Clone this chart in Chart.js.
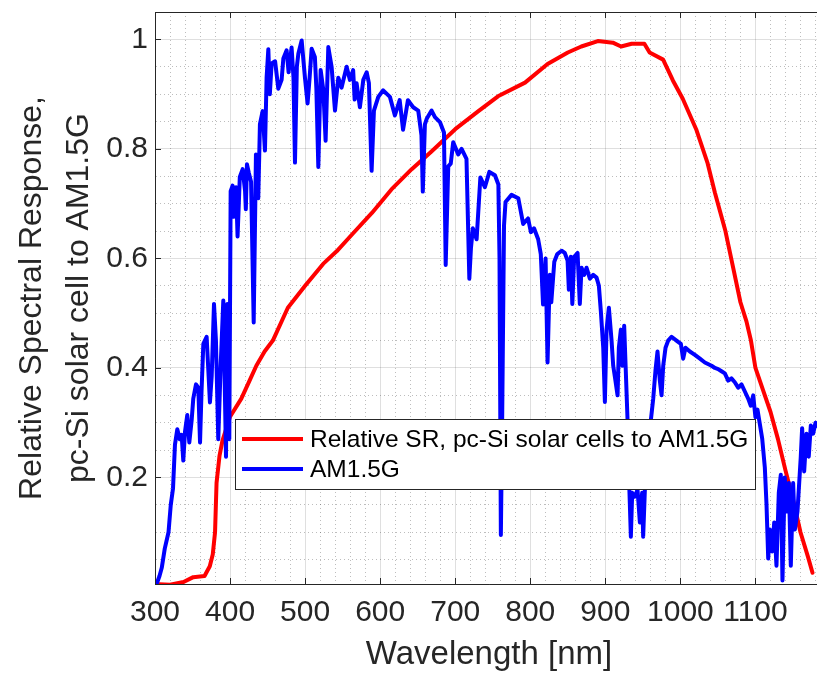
<!DOCTYPE html>
<html>
<head>
<meta charset="utf-8">
<title>Relative spectral response vs AM1.5G</title>
<script src="https://cdn.jsdelivr.net/npm/chart.js@4.4.1/dist/chart.umd.min.js"></script>
<style>
  html, body { margin: 0; padding: 0; background: #fff; overflow: hidden; }
  #wrap { width: 823px; height: 673px; }
</style>
</head>
<body>
<div id="wrap"><canvas id="srChart" width="823" height="673"></canvas></div>
<script>
// Relative SR of pc-Si cell (red) and normalised AM1.5G spectrum (blue)
const srWavelength = [306, 320, 338, 351, 366, 373, 377, 380, 382, 386, 390, 400, 415, 426, 435, 446, 457, 477, 500, 524,
  542, 564, 589, 615, 642, 668, 700, 730, 757, 793, 823, 850, 868, 890, 910, 921, 935, 952, 959, 977,
  990, 1003, 1021, 1036, 1046, 1060, 1070, 1080, 1088, 1094, 1100, 1110, 1120, 1130, 1140, 1150, 1160, 1170, 1176];
const srValues = [0.005, 0.004, 0.009, 0.018, 0.02, 0.038, 0.06, 0.1, 0.19, 0.24, 0.268, 0.311, 0.344, 0.377, 0.404, 0.43, 0.45, 0.51, 0.55, 0.59,
  0.613, 0.646, 0.683, 0.726, 0.763, 0.795, 0.836, 0.868, 0.896, 0.921, 0.955, 0.976, 0.987, 0.997, 0.994, 0.987, 0.992, 0.992, 0.976, 0.963,
  0.925, 0.892, 0.836, 0.775, 0.72, 0.65, 0.585, 0.52, 0.485, 0.45, 0.40, 0.36, 0.32, 0.27, 0.213, 0.16, 0.1, 0.055, 0.026];

const amWavelength = [300.5, 302, 306, 309, 313, 318, 321, 324, 326.6, 329.7, 333, 335.5, 337.7, 340, 343, 345.7, 348.8, 351, 354.6, 357.7,
  360, 362, 364.4, 368.8, 373.2, 375.5, 378.6, 381.2, 384.3, 387.5, 391, 394.6, 396.3, 399, 400.8, 403.4, 405.2, 408, 410, 413,
  416.8, 420, 421, 422.5, 425, 428, 431.5, 434.5, 437.6, 439.8, 443.4, 446.5, 448.7, 451, 453, 455.4, 460, 464.3, 468.7, 471,
  475.4, 478, 482, 484.5, 486.5, 489, 491, 495.4, 499.8, 503.3, 506, 508.7, 513, 515, 517.6, 520.7, 524.3, 527.3, 530.9, 535.3,
  539.8, 544.2, 548.6, 555.3, 559.7, 564, 566, 568.6, 573, 577.5, 582, 585, 588.6, 591.7, 597.5, 604, 613, 619.6, 626, 630.5,
  637, 644, 650.7, 655, 656.8, 659.6, 662, 668.5, 673, 679.6, 685, 687.3, 690.7, 694, 697.3, 704, 708.5, 715, 718.8, 721,
  723.5, 728.5, 733.5, 739.5, 745.5, 752.9, 757.5, 759, 760.8, 762.5, 765, 767, 775, 784, 790.5, 797, 800.8, 805, 810.5, 814,
  817, 820.4, 823, 826, 828, 832, 836, 841.7, 846, 849.7, 851.4, 854, 856, 858.5, 863, 866, 868.3, 871.8, 875, 879.4,
  883.8, 888.3, 891.4, 894, 897.2, 899.4, 901.6, 904.7, 908.3, 910.5, 912.7, 916.3, 918, 920.7, 922.5, 925.1, 927, 929.6, 932, 934,
  935.8, 939.4, 942.9, 946, 949, 950.4, 952.7, 956, 960.6, 963.8, 966.9, 969.5, 972.6, 974.9, 977.1, 980.2, 983.7, 988.2, 994.8, 1000.6,
  1003.7, 1006.8, 1012.6, 1019.3, 1026, 1032.6, 1041.5, 1046, 1050.3, 1054.8, 1059.2, 1063.7, 1068, 1072.5, 1077, 1081.4, 1085.9, 1090.3, 1093.8, 1097,
  1100, 1102.7, 1105.8, 1109, 1112.5, 1114.7, 1117, 1119.2, 1122.3, 1125, 1128, 1131.1, 1133.8, 1136, 1139, 1141.8, 1144.5, 1147.1, 1150.2, 1152.5,
  1156, 1160.4, 1162.2, 1164.9, 1168, 1171, 1173.8, 1176.9, 1180, 1185];
const amValues = [0.0, 0.005, 0.02, 0.035, 0.07, 0.1, 0.15, 0.18, 0.26, 0.288, 0.27, 0.278, 0.231, 0.284, 0.314, 0.264, 0.304, 0.344, 0.37, 0.364,
  0.264, 0.357, 0.444, 0.457, 0.337, 0.384, 0.517, 0.45, 0.27, 0.404, 0.523, 0.238, 0.517, 0.27, 0.723, 0.733, 0.676, 0.73, 0.64, 0.749,
  0.763, 0.723, 0.69, 0.772, 0.756, 0.74, 0.483, 0.79, 0.71, 0.845, 0.869, 0.797, 0.93, 0.982, 0.9, 0.956, 0.96, 0.91, 0.926, 0.965,
  0.98, 0.94, 0.985, 0.93, 0.775, 0.95, 0.974, 0.998, 0.93, 0.883, 0.93, 0.983, 0.968, 0.91, 0.767, 0.944, 0.907, 0.815, 0.986, 0.95,
  0.87, 0.93, 0.912, 0.95, 0.926, 0.944, 0.89, 0.92, 0.876, 0.926, 0.94, 0.92, 0.76, 0.87, 0.895, 0.907, 0.895, 0.861, 0.889, 0.835,
  0.889, 0.876, 0.87, 0.825, 0.722, 0.845, 0.855, 0.87, 0.858, 0.849, 0.83, 0.588, 0.768, 0.773, 0.812, 0.79, 0.8, 0.782, 0.563, 0.62,
  0.655, 0.635, 0.748, 0.73, 0.758, 0.752, 0.735, 0.6, 0.095, 0.3, 0.66, 0.703, 0.716, 0.71, 0.663, 0.673, 0.648, 0.655, 0.635, 0.608,
  0.516, 0.6, 0.41, 0.57, 0.52, 0.594, 0.608, 0.614, 0.61, 0.596, 0.543, 0.603, 0.517, 0.603, 0.61, 0.517, 0.583, 0.57, 0.583, 0.563,
  0.57, 0.565, 0.55, 0.504, 0.437, 0.338, 0.47, 0.51, 0.45, 0.404, 0.384, 0.35, 0.437, 0.47, 0.404, 0.477, 0.404, 0.304, 0.18, 0.092,
  0.172, 0.165, 0.178, 0.118, 0.172, 0.092, 0.178, 0.25, 0.304, 0.344, 0.397, 0.43, 0.377, 0.35, 0.404, 0.437, 0.45, 0.457, 0.45, 0.444,
  0.417, 0.437, 0.43, 0.424, 0.417, 0.41, 0.404, 0.40, 0.398, 0.394, 0.39, 0.377, 0.381, 0.374, 0.364, 0.37, 0.357, 0.344, 0.331, 0.35,
  0.31, 0.324, 0.298, 0.271, 0.218, 0.152, 0.052, 0.105, 0.065, 0.118, 0.039, 0.172, 0.205, 0.012, 0.2, 0.138, 0.19, 0.039, 0.19, 0.105,
  0.138, 0.238, 0.29, 0.211, 0.28, 0.238, 0.295, 0.28, 0.3, 0.29];

const seriesLabels = ['Relative SR, pc-Si solar cells to AM1.5G', 'AM1.5G'];
const seriesColors = ['#ff0000', '#0000ff'];

const xMajorTicks = [300, 400, 500, 600, 700, 800, 900, 1000, 1100];
const yMajorTicks = [0.2, 0.4, 0.6, 0.8, 1];
const xMinorStep = 20;
const yMinorStep = 0.05;
const xRange = [300, 1190];
const yRange = [0.0055, 1.05];

const axisColor = '#262626';
const majorGrid = 'rgba(38,38,38,0.15)';
const minorGrid = 'rgba(38,38,38,0.3)';
const fontFamily = '"Liberation Sans", Arial, Helvetica, sans-serif';

function isMajor(list, v) {
    return list.some(t => Math.abs(t - v) < 1e-6);
}

function buildTicks(min, max, step) {
    const out = [];
    const first = Math.ceil(min / step - 1e-9);
    for (let i = first; i * step <= max + 1e-9; i++) {
        out.push({ value: Math.round(i * step * 1000) / 1000 });
    }
    return out;
}

// frame all round and inward tick marks, as the original axes box
const axesBox = {
    id: 'axesBox',
    afterDraw(chart) {
        const { ctx, chartArea: a, scales } = chart;
        const len = 6;
        ctx.save();
        ctx.strokeStyle = axisColor;
        ctx.lineWidth = 1;
        ctx.beginPath();
        ctx.rect(Math.round(a.left) + 0.5, Math.round(a.top) + 0.5, Math.round(a.right - a.left), Math.round(a.bottom - a.top));
        xMajorTicks.forEach(v => {
            const px = Math.round(scales.x.getPixelForValue(v)) + 0.5;
            ctx.moveTo(px, a.bottom); ctx.lineTo(px, a.bottom - len);
            ctx.moveTo(px, a.top); ctx.lineTo(px, a.top + len);
        });
        yMajorTicks.forEach(v => {
            const py = Math.round(scales.y.getPixelForValue(v)) + 0.5;
            ctx.moveTo(a.left, py); ctx.lineTo(a.left + len, py);
        });
        ctx.stroke();
        ctx.restore();
    }
};

// legend box drawn over the lines, like the MATLAB one
const boxLegend = {
    id: 'boxLegend',
    afterDraw(chart) {
        const { ctx } = chart;
        const box = { x: 235, y: 419, w: 520, h: 70 };
        ctx.save();
        ctx.fillStyle = '#ffffff';
        ctx.fillRect(box.x, box.y, box.w, box.h);
        ctx.strokeStyle = axisColor;
        ctx.lineWidth = 1;
        ctx.strokeRect(box.x + 0.5, box.y + 0.5, box.w, box.h);
        ctx.font = '24.5px ' + fontFamily;
        ctx.textBaseline = 'middle';
        chart.data.datasets.forEach((ds, i) => {
            const y = box.y + 20 + i * 30;
            ctx.strokeStyle = ds.borderColor;
            ctx.lineWidth = 4;
            ctx.beginPath();
            ctx.moveTo(box.x + 7, y);
            ctx.lineTo(box.x + 68, y);
            ctx.stroke();
            ctx.fillStyle = '#000000';
            ctx.fillText(ds.label, box.x + 75, y + 1);
        });
        ctx.restore();
    }
};

function toPoints(xs, ys) {
    return xs.map((x, i) => ({ x: x, y: ys[i] }));
}

function noScalePadding(s) {
    s.paddingTop = 0;
    s.paddingBottom = 0;
    s.paddingLeft = 0;
    s.paddingRight = 0;
}

const chart = new Chart(document.getElementById('srChart'), {
    type: 'line',
    data: {
        datasets: [
            {
                label: seriesLabels[0],
                data: toPoints(srWavelength, srValues),
                borderColor: seriesColors[0],
                borderWidth: 4,
                order: 2
            },
            {
                label: seriesLabels[1],
                data: toPoints(amWavelength, amValues),
                borderColor: seriesColors[1],
                borderWidth: 4,
                order: 1
            }
        ]
    },
    options: {
        responsive: false,
        animation: false,
        layout: { padding: { top: 12, left: 0, right: 0, bottom: 0 } },
        elements: {
            point: { radius: 0 },
            line: { tension: 0, borderJoinStyle: 'round', borderCapStyle: 'round', fill: false }
        },
        plugins: {
            legend: { display: false },
            tooltip: { enabled: false }
        },
        scales: {
            x: {
                type: 'linear',
                min: xRange[0],
                max: xRange[1],
                afterBuildTicks: s => { s.ticks = buildTicks(xRange[0], xRange[1], xMinorStep); },
                afterFit: s => { s.height = 89; noScalePadding(s); },
                ticks: {
                    autoSkip: false,
                    maxRotation: 0,
                    minRotation: 0,
                    padding: 11,
                    color: axisColor,
                    font: { family: fontFamily, size: 30 },
                    callback: v => isMajor(xMajorTicks, v) ? String(v) : ''
                },
                grid: {
                    drawTicks: false,
                    color: c => isMajor(xMajorTicks, c.tick.value) ? majorGrid : minorGrid,
                    lineWidth: 1
                },
                border: {
                    color: axisColor,
                    dash: c => (c.tick && isMajor(xMajorTicks, c.tick.value)) ? [] : [1, 3]
                },
                title: {
                    display: true,
                    text: 'Wavelength [nm]',
                    color: axisColor,
                    font: { family: fontFamily, size: 33 },
                    padding: { top: 0, bottom: -2 }
                }
            },
            y: {
                type: 'linear',
                min: yRange[0],
                max: yRange[1],
                afterBuildTicks: s => { s.ticks = buildTicks(yRange[0], yRange[1], yMinorStep); },
                afterFit: s => { s.width = 155; noScalePadding(s); },
                ticks: {
                    autoSkip: false,
                    padding: 7,
                    color: axisColor,
                    font: { family: fontFamily, size: 30 },
                    callback: v => isMajor(yMajorTicks, v) ? String(v) : ''
                },
                grid: {
                    drawTicks: false,
                    color: c => isMajor(yMajorTicks, c.tick.value) ? majorGrid : minorGrid,
                    lineWidth: 1
                },
                border: {
                    color: axisColor,
                    dash: c => (c.tick && isMajor(yMajorTicks, c.tick.value)) ? [] : [1, 3]
                },
                title: {
                    display: true,
                    text: ['Relative Spectral Response,', 'pc-Si solar cell to AM1.5G'],
                    color: axisColor,
                    font: { family: fontFamily, size: 32, lineHeight: 1.465 },
                    padding: { top: 9, bottom: 0 }
                }
            }
        }
    },
    plugins: [axesBox, boxLegend]
});
</script>
</body>
</html>
